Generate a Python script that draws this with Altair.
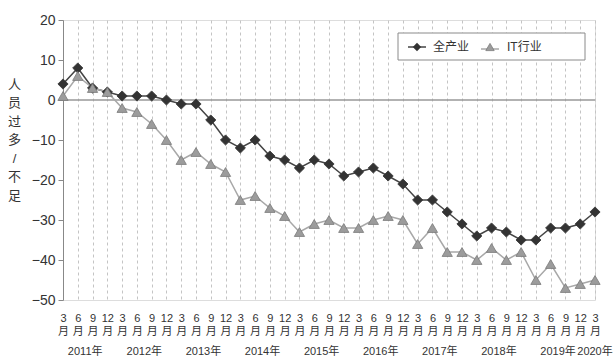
import json
import altair as alt
import pandas as pd

# ---- data ----
years = ["2011年", "2012年", "2013年", "2014年", "2015年", "2016年", "2017年", "2018年", "2019年", "2020年"]
month_labels = ["3", "6", "9", "12"]
series_names = ["全产业", "IT行业"]

all_industry = [4, 8, 3, 2,
                1, 1, 1, 0,
                -1, -1, -5, -10,
                -12, -10, -14, -15,
                -17, -15, -16, -19,
                -18, -17, -19, -21,
                -25, -25, -28, -31,
                -34, -32, -33, -35,
                -35, -32, -32, -31,
                -28]
it_industry = [1, 6, 3, 2,
               -2, -3, -6, -10,
               -15, -13, -16, -18,
               -25, -24, -27, -29,
               -33, -31, -30, -32,
               -32, -30, -29, -30,
               -36, -32, -38, -38,
               -40, -37, -40, -38,
               -45, -41, -47, -46,
               -45]
y_ticks = [20, 10, 0, -10, -20, -30, -40, -50]
y_title = ["人", "员", "过", "多", "/", "不", "足"]

rows = []
for i, (a, b) in enumerate(zip(all_industry, it_industry)):
    rows.append({"idx": i, "year": years[i // 4], "series": series_names[0], "value": a})
    rows.append({"idx": i, "year": years[i // 4], "series": series_names[1], "value": b})
df = pd.DataFrame(rows)

year_df = (df[df.series == series_names[0]]
           .groupby("year", as_index=False)["idx"].mean())

FONT = "Liberation Sans Narrow, Liberation Sans, Noto Sans CJK SC, sans-serif"
W, H = 532, 280

x_scale = alt.Scale(domain=[0, len(all_industry) - 1], nice=False, zero=False)
y_scale = alt.Scale(domain=[-50, 20], nice=False)

month_expr = "[" + json.dumps(month_labels) + "[datum.value % 4], '月']"

x_axis = alt.Axis(values=list(range(len(all_industry))), title=None,
                  labelExpr=month_expr, ticks=False, domain=False,
                  grid=True, gridDash=[3, 3], gridColor="#c4c4c4",
                  labelFontSize=11, labelLineHeight=13, labelPadding=12,
                  labelColor="#333", labelFont=FONT, labelBaseline="top",
                  labelFlush=False, labelOverlap=False)
y_axis = alt.Axis(values=y_ticks, title=y_title,
                  titleAngle=0, titleX=-49, titleY=58, titleAlign="center",
                  titleBaseline="top", titleFontSize=13, titleLineHeight=18.5,
                  titleFontWeight="normal", titleColor="#333", titleFont=FONT,
                  grid=False, tickSize=5, tickColor="#888", domainColor="#888",
                  labelFontSize=14, labelColor="#333", labelFont=FONT,
                  labelPadding=3, labelOverlap=False)

def X(field="idx:Q"):
    return alt.X(field, scale=x_scale, axis=x_axis)

def Y(field="value:Q"):
    return alt.Y(field, scale=y_scale, axis=y_axis)

line_scale = alt.Scale(domain=series_names, range=["#454545", "#a8a8a8"])
fill_scale = alt.Scale(domain=series_names, range=["#333333", "#9c9c9c"])
outline_scale = alt.Scale(domain=series_names, range=["#333333", "#7a7a7a"])
shape_scale = alt.Scale(domain=series_names, range=["diamond", "triangle-up"])

base = alt.Chart(df)

zero = alt.Chart(pd.DataFrame({"value": [0]})).mark_rule(color="#999", strokeWidth=1.5).encode(
    y=Y())

lines = base.mark_line(strokeWidth=1.5).encode(
    x=X(), y=Y(),
    color=alt.Color("series:N", scale=line_scale, legend=None),
    detail="series:N")

points = base.mark_point(filled=True, size=105, opacity=1, strokeWidth=0.8).encode(
    x=X(), y=Y(),
    fill=alt.Fill("series:N", scale=fill_scale, legend=None),
    stroke=alt.Stroke("series:N", scale=outline_scale, legend=None),
    shape=alt.Shape("series:N", scale=shape_scale, legend=None))

years_text = alt.Chart(year_df).mark_text(fontSize=11, font=FONT, color="#333",
                                          baseline="middle", align="center").encode(
    x=X(), y=alt.value(H + 52), text="year:N")

# ---- legend (drawn as decoration) ----
one = pd.DataFrame({"k": [0]})
legend_box = alt.Chart(one).mark_rect(fill="white", stroke="#8a8a8a", strokeWidth=1).encode(
    x=alt.value(335), x2=alt.value(522), y=alt.value(13), y2=alt.value(40))
LY = 27
leg1_line = alt.Chart(one).mark_rule(color="#454545", strokeWidth=1.5).encode(
    x=alt.value(345), x2=alt.value(363), y=alt.value(LY))
leg1_pt = alt.Chart(one).mark_point(filled=True, shape="diamond", size=70, color="#333",
                                    opacity=1).encode(x=alt.value(354), y=alt.value(LY))
leg1_txt = alt.Chart(pd.DataFrame({"t": [series_names[0]]})).mark_text(
    align="left", baseline="middle", fontSize=12, font=FONT, color="#333").encode(
    x=alt.value(370), y=alt.value(LY), text="t:N")
leg2_line = alt.Chart(one).mark_rule(color="#a8a8a8", strokeWidth=1.5).encode(
    x=alt.value(418), x2=alt.value(436), y=alt.value(LY + 2))
leg2_pt = alt.Chart(one).mark_point(filled=True, shape="triangle-up", size=70, fill="#9c9c9c",
                                    stroke="#7a7a7a", strokeWidth=0.8, opacity=1).encode(
    x=alt.value(427), y=alt.value(LY))
leg2_txt = alt.Chart(pd.DataFrame({"t": [series_names[1]]})).mark_text(
    align="left", baseline="middle", fontSize=12, font=FONT, color="#333").encode(
    x=alt.value(444), y=alt.value(LY), text="t:N")

chart = alt.layer(zero, lines, points, years_text, legend_box,
                  leg1_line, leg1_pt, leg1_txt, leg2_line, leg2_pt, leg2_txt).properties(
    width=W, height=H,
    autosize=alt.AutoSizeParams(type="none"),
    padding={"left": 63, "top": 20, "right": 18, "bottom": 59},
    background="white",
).configure_view(stroke="#999", strokeWidth=1).configure(font=FONT)

chart.save("out.html", embed_options={"renderer": "svg", "actions": False})
